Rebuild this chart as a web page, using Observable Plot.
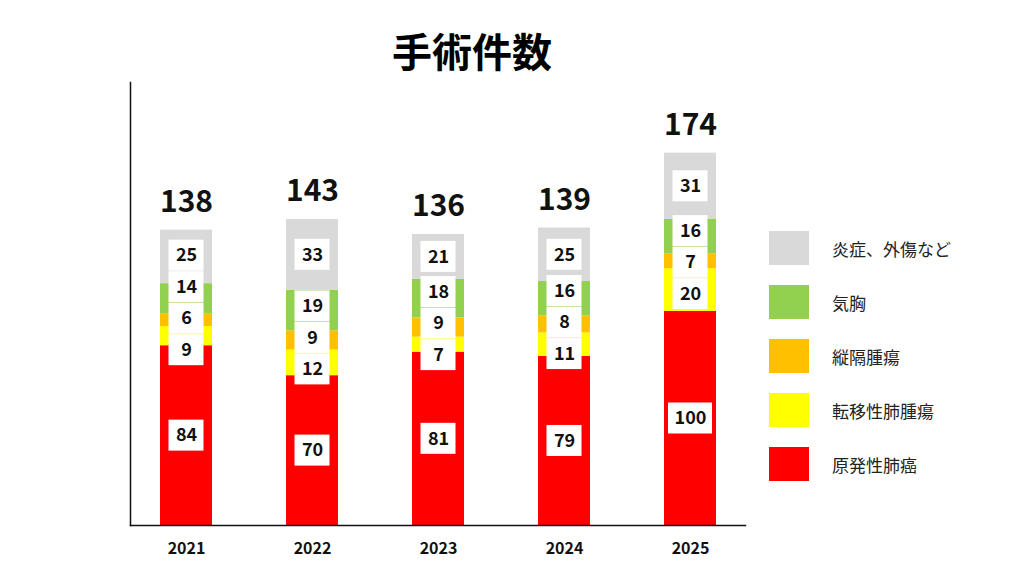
<!DOCTYPE html>
<html>
<head>
<meta charset="utf-8">
<script src="https://cdn.jsdelivr.net/npm/d3@7"></script>
<script src="https://cdn.jsdelivr.net/npm/@observablehq/plot@0.6"></script>
<style>
  html, body { margin: 0; padding: 0; background: #fff; }
  body { width: 1024px; height: 576px; overflow: hidden; font-family: "Noto Sans CJK JP", sans-serif; }
  #wrap { position: relative; width: 1024px; height: 576px; }
  #title { position: absolute; left: 372px; width: 200px; top: 22px; text-align: center; font-size: 40px; font-weight: 700; color: #000; line-height: 56px; }
  #legend { position: absolute; left: 769px; top: 221px; }
  .item { display: flex; align-items: center; height: 54px; }
  .sw { width: 40px; height: 34px; margin-right: 23px; }
  .lab { font-size: 17px; color: #222; }
  #chart { position: absolute; left: 0; top: 0; }
</style>
</head>
<body>
<div id="wrap">
  <div id="chart"></div>
  <div id="title">手術件数</div>
  <div id="legend"></div>
</div>
<script>
const years = ["2021", "2022", "2023", "2024", "2025"];
const categories = ["原発性肺癌", "転移性肺腫瘍", "縦隔腫瘍", "気胸", "炎症、外傷など"];
const primaryLung = [84, 70, 81, 79, 100];
const metastatic = [9, 12, 7, 11, 20];
const mediastinal = [6, 9, 9, 8, 7];
const pneumothorax = [14, 19, 18, 16, 16];
const otherCases = [25, 33, 21, 25, 31];
const totals = [138, 143, 136, 139, 174];
const colors = ["#FF0000", "#FFFF00", "#FFC000", "#92D050", "#D9D9D9"];

const series = [primaryLung, metastatic, mediastinal, pneumothorax, otherCases];

const W = 1024, H = 576, mt = 82, mb = 51, ml = 130, mr = 279;
const yMax = 207;
const ppu = (H - mt - mb) / yMax;
const boxPx = 31;
const halfBox = (boxPx / 2) / ppu;
const minGap = 31.5 / ppu;

const rows = [];
years.forEach((year, i) => {
  let base = 0;
  const group = [];
  categories.forEach((cat, j) => {
    const v = series[j][i];
    const r = {year, category: cat, value: v, mid: base + v / 2};
    r.pos = r.mid;
    group.push(r);
    base += v;
  });
  // simple label dodging so that the white boxes do not cover each other
  for (let it = 0; it < 200; it++) {
    for (let k = 0; k < group.length - 1; k++) {
      const a = group[k], b = group[k + 1];
      const gap = b.pos - a.pos;
      if (gap < minGap) {
        const push = (minGap - gap) / 2;
        a.pos -= push;
        b.pos += push;
      }
    }
  }
  rows.push(...group);
});
const totalRows = years.map((year, i) => ({year, total: totals[i]}));

const twoDigit = rows.filter(d => String(d.value).length < 3);
const threeDigit = rows.filter(d => String(d.value).length >= 3);

const chart = Plot.plot({
  width: W,
  height: H,
  marginTop: mt,
  marginBottom: mb,
  marginLeft: ml,
  marginRight: mr,
  style: {fontFamily: "'Noto Sans CJK JP', sans-serif", background: "transparent"},
  x: {domain: years, paddingInner: 0.59, paddingOuter: 0.22, label: null},
  y: {domain: [0, yMax], axis: null},
  color: {domain: categories, range: colors},
  marks: [
    Plot.barY(rows, {x: "year", y: "value", fill: "category", order: categories}),
    Plot.barY(twoDigit, {x: "year", y1: d => d.pos - halfBox, y2: d => d.pos + halfBox, fill: "white", insetLeft: 8.5, insetRight: 8.5}),
    Plot.barY(threeDigit, {x: "year", y1: d => d.pos - halfBox, y2: d => d.pos + halfBox, fill: "white", insetLeft: 4, insetRight: 4}),
    Plot.text(rows, {x: "year", y: "pos", text: d => String(d.value), fontSize: 18, fontWeight: "bold", fill: "#111"}),
    Plot.text(totalRows, {x: "year", y: "total", text: d => String(d.total), dy: -28, fontSize: 30, fontWeight: "bold", fill: "#111"}),
    Plot.axisX({tickSize: 0, tickPadding: 17, fontSize: 16, fontWeight: "bold", fill: "#111", label: null}),
    Plot.frame({anchor: "left", stroke: "#111", strokeWidth: 1.5}),
    Plot.frame({anchor: "bottom", stroke: "#111", strokeWidth: 1.5})
  ]
});
document.getElementById("chart").appendChild(chart);

const legend = document.getElementById("legend");
for (let j = categories.length - 1; j >= 0; j--) {
  const item = document.createElement("div");
  item.className = "item";
  const sw = document.createElement("div");
  sw.className = "sw";
  sw.style.background = colors[j];
  const lab = document.createElement("div");
  lab.className = "lab";
  lab.textContent = categories[j];
  item.appendChild(sw);
  item.appendChild(lab);
  legend.appendChild(item);
}
</script>
</body>
</html>
